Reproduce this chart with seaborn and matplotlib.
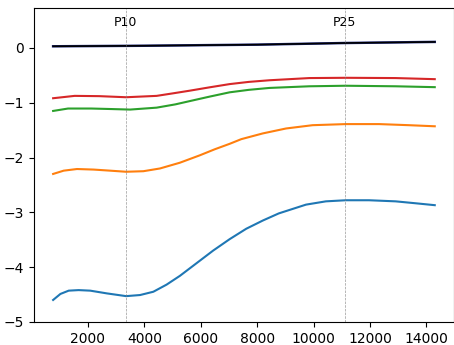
#!/usr/bin/env python3
import matplotlib
matplotlib.use("Agg")
import matplotlib.pyplot as plt
import seaborn as sns

# values
blue_x = [766, 1024, 1318, 1671, 2082, 2671, 3353, 3847, 4318, 4788, 5259, 5847, 6435, 7024,
          7612, 8200, 8765, 9729, 10435, 11141, 11965, 12906, 13612, 14294]
blue_y = [-4.60, -4.49, -4.43, -4.42, -4.43, -4.48, -4.53, -4.51, -4.45, -4.32, -4.16, -3.93, -3.70, -3.49,
          -3.30, -3.15, -3.02, -2.86, -2.80, -2.78, -2.78, -2.80, -2.835, -2.87]

orange_x = [766, 1141, 1612, 2200, 2788, 3353, 3965, 4553, 5259, 5965, 6494, 7024, 7435,
            8200, 9024, 9965, 11141, 12318, 13376, 14294]
orange_y = [-2.30, -2.24, -2.21, -2.22, -2.24, -2.26, -2.25, -2.20, -2.095, -1.96, -1.85, -1.75, -1.665,
            -1.56, -1.47, -1.41, -1.39, -1.39, -1.41, -1.43]

green_x = [766, 1294, 2118, 2800, 3494, 4435, 5100, 5612, 6300, 7024, 7700, 8435, 9847, 11141, 12906, 14294]
green_y = [-1.15, -1.106, -1.106, -1.115, -1.125, -1.09, -1.03, -0.97, -0.89, -0.81, -0.765, -0.73, -0.70, -0.69, -0.70, -0.716]

red_x = [766, 1529, 2400, 3353, 4435, 5000, 5612, 6300, 7024, 7700, 8435, 9847, 11141, 12906, 14294]
red_y = [-0.918, -0.875, -0.88, -0.90, -0.875, -0.83, -0.78, -0.72, -0.66, -0.62, -0.59, -0.55, -0.545, -0.55, -0.57]

black_x = [766, 4000, 8000, 11141, 14294]
black_y = [0.03, 0.04, 0.06, 0.09, 0.11]

marker_x = [3343, 11100]
marker_labels = ["P10", "P25"]

fig, ax = plt.subplots(figsize=(4.54, 3.45), dpi=100)
fig.subplots_adjust(left=0.075, right=0.999, top=0.977, bottom=0.067)

for xs, ys, c in [(blue_x, blue_y, "#1f77b4"), (orange_x, orange_y, "#ff7f0e"),
                  (green_x, green_y, "#2ca02c"), (red_x, red_y, "#d62728")]:
    sns.lineplot(x=xs, y=ys, color=c, linewidth=1.5, ax=ax)

# navy line sitting under the black one
sns.lineplot(x=black_x, y=black_y, color="#1f2a80", linewidth=1.8, ax=ax)
sns.lineplot(x=black_x, y=black_y, color="black", linewidth=1.2, ax=ax)

for xv, lab in zip(marker_x, marker_labels):
    ax.axvline(xv, color="grey", linestyle="--", linewidth=0.5, alpha=0.8)
    ax.text(xv, 0.47, lab, ha="center", va="center", fontsize=9)

ax.set_xlim(90, 14960)
ax.set_ylim(-5, 0.73)
ax.set_xticks([2000, 4000, 6000, 8000, 10000, 12000, 14000])

fig.savefig("out.png", dpi=100)
